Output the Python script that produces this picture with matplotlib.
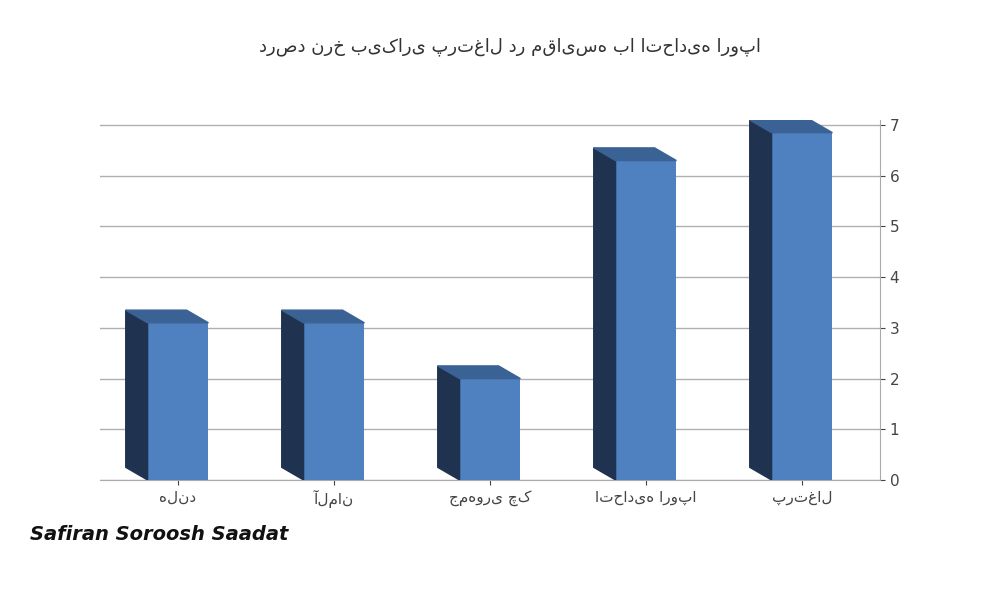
import matplotlib
matplotlib.use("Agg")
import matplotlib.pyplot as plt
from matplotlib.patches import Polygon

categories = ["هلند", "آلمان", "جمهوری چک", "اتحادیه اروپا", "پرتغال"]
values = [3.1, 3.1, 2.0, 6.3, 6.85]
title = "درصد نرخ بیکاری پرتغال در مقایسه با اتحادیه اروپا"

plt.rcParams['font.family'] = ['DejaVu Sans']
fig = plt.figure(figsize=(10, 6), dpi=100)
ax = fig.add_axes([0.10, 0.20, 0.78, 0.60])
x = list(range(len(categories)))
w = 0.39
ax.bar(x, values, width=w, color="#4f81c0", zorder=3)
d = 0.14
for xi, v in zip(x, values):
    l = xi - w / 2
    ax.add_patch(Polygon([(l - d, 0.25), (l, 0), (l, v), (l - d, v + 0.25)],
                         closed=True, color="#1f3350", zorder=3))
    ax.add_patch(Polygon([(l - d, v + 0.25), (l, v), (l + w, v), (l + w - d, v + 0.25)],
                         closed=True, color="#3a6294", zorder=3))
ax.set_xlim(-0.5, len(categories) - 0.5)
ax.set_ylim(0, 7.1)
ax.set_yticks(range(8))
ax.yaxis.tick_right()
ax.grid(axis="y", color="#b0b0b0", lw=1)
ax.set_xticks(x)
ax.set_xticklabels(categories, fontsize=11, color="#444")
for s in ["top", "left"]:
    ax.spines[s].set_visible(False)
ax.spines["right"].set_color("#aaa")
ax.spines["bottom"].set_color("#aaa")
ax.tick_params(colors="#444", labelsize=11)
fig.text(0.51, 0.915, title, ha="center", fontsize=13, color="#333")
fig.text(0.03, 0.10, "Safiran Soroosh Saadat", fontsize=14, fontweight="bold",
         color="#111", style="italic")
fig.savefig("out.png", dpi=100)
